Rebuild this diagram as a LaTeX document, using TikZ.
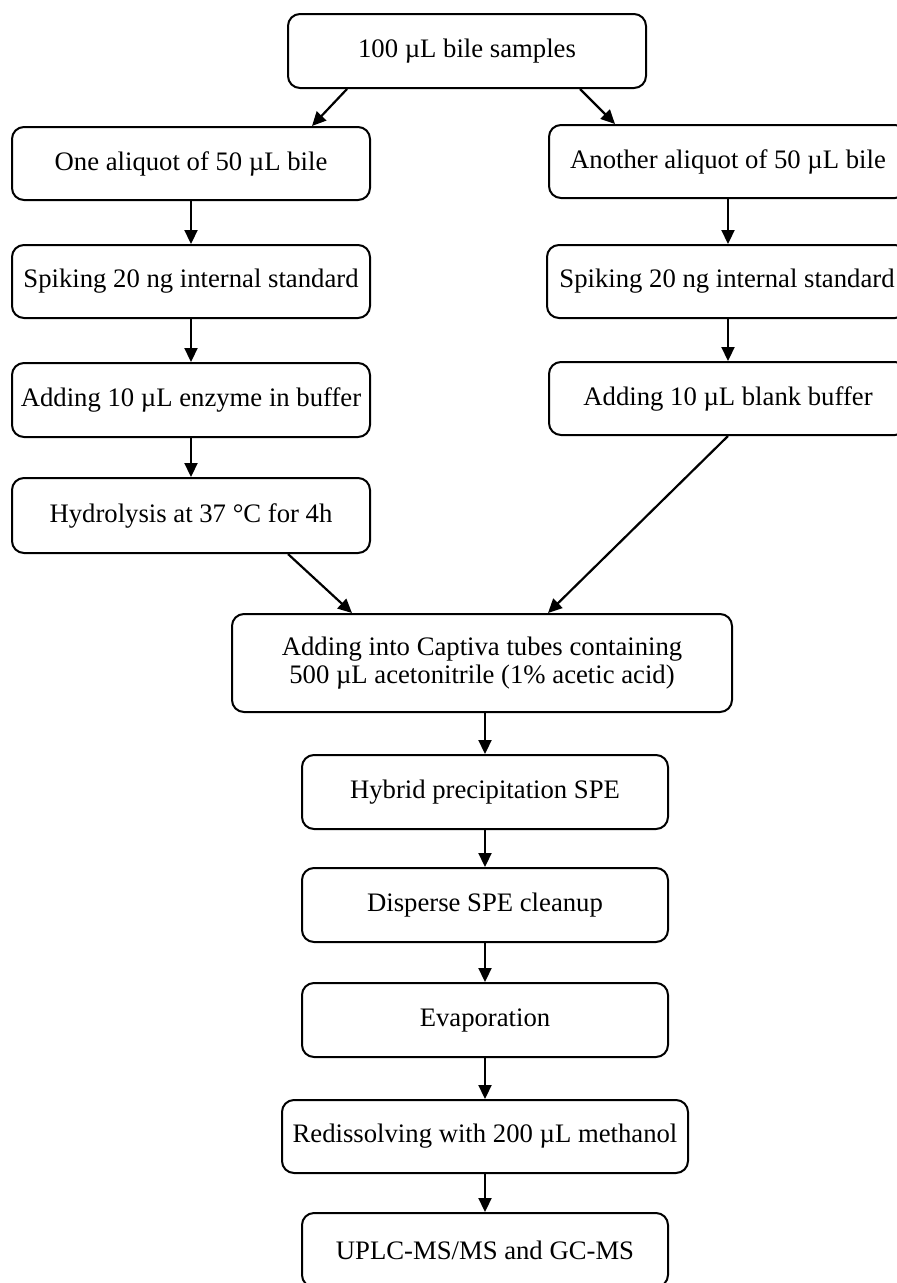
\documentclass[tikz,border=0pt]{standalone}
\usepackage{fontspec}
\setmainfont{Liberation Serif}
\usetikzlibrary{arrows.meta,calc}
\tikzset{
  box/.style={draw=black, line width=2pt, rounded corners=12pt, inner sep=0pt,
    align=center, font=\fontsize{26.7}{27.5}\selectfont},
  arr/.style={line width=2.2pt, -{Triangle[length=14pt,width=13pt]}}
}
\begin{document}
\begin{tikzpicture}[x=1pt,y=-1pt]
\useasboundingbox (0,0) rectangle (897,1283);
\clip (0,0) rectangle (897,1283);
\fill[white] (0,0) rectangle (897,1283);
\node[box, minimum width=358pt, minimum height=74pt] (top) at (467,51) {100 µL bile samples};
\node[box, minimum width=358pt, minimum height=73pt] (L1) at (191,163.5) {One aliquot of 50 µL bile};
\node[box, minimum width=358pt, minimum height=73pt] (L2) at (191,281.5) {Spiking 20 ng internal standard};
\node[box, minimum width=358pt, minimum height=74pt] (L3) at (191,400) {Adding 10 µL enzyme in buffer};
\node[box, minimum width=358pt, minimum height=75pt] (L4) at (191,515.5) {Hydrolysis at 37 °C for 4h};
\node[box, minimum width=358pt, minimum height=73pt] (R1) at (728,161.5) {Another aliquot of 50 µL bile};
\node[box, minimum width=360pt, minimum height=73pt] (R2) at (727,281.5) {Spiking 20 ng internal standard};
\node[box, minimum width=358pt, minimum height=73pt] (R3) at (728,398.5) {Adding 10 µL blank buffer};
\node[box, minimum width=500pt, minimum height=98pt] (cap) at (482,663) {Adding into Captiva tubes containing\\500 µL acetonitrile (1\% acetic acid)};
\node[box, minimum width=366pt, minimum height=74pt] (hyb) at (485,792) {Hybrid precipitation SPE};
\node[box, minimum width=366pt, minimum height=74pt] (dis) at (485,905) {Disperse SPE cleanup};
\node[box, minimum width=366pt, minimum height=74pt] (eva) at (485,1020) {Evaporation};
\node[box, minimum width=406pt, minimum height=73pt] (red) at (485,1136.5) {Redissolving with 200 µL methanol};
\node[box, minimum width=366pt, minimum height=74pt] (upl) at (485,1250) {UPLC-MS/MS and GC-MS};

\draw[arr] ([xshift=-120pt]top.south) -- ([xshift=121pt]L1.north);
\draw[arr] ([xshift=113pt]top.south) -- ([xshift=-113pt]R1.north);
\draw[arr] (L1.south) -- (L2.north);
\draw[arr] (L2.south) -- (L3.north);
\draw[arr] (L3.south) -- (L4.north);
\draw[arr] (R1.south) -- (R1.south |- R2.north);
\draw[arr] (R2.south -| R1.south) -- (R1.south |- R3.north);
\draw[arr] ([xshift=97pt]L4.south) -- ([xshift=-130pt]cap.north);
\draw[arr] (R3.south) -- ([xshift=66pt]cap.north);
\draw[arr] (cap.south -| hyb.north) -- (hyb.north);
\draw[arr] (hyb.south) -- (dis.north);
\draw[arr] (dis.south) -- (eva.north);
\draw[arr] (eva.south) -- (red.north);
\draw[arr] (red.south) -- (upl.north);
\end{tikzpicture}
\end{document}
